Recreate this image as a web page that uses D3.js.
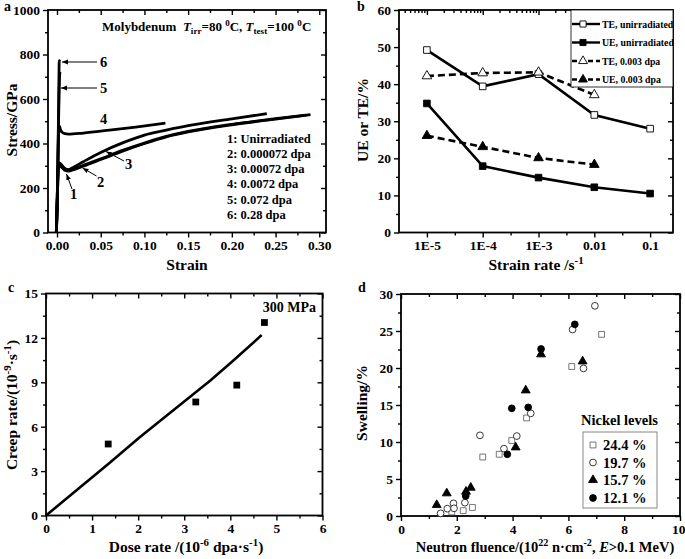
<!DOCTYPE html>
<html><head><meta charset="utf-8">
<script src="https://cdn.jsdelivr.net/npm/d3@7"></script>
<style>
body{margin:0;background:#fff}
text{font-family:'Liberation Serif','Times New Roman',serif;font-weight:bold;fill:#000}
</style>
</head><body><script>
// ---------- DATA ----------
// Panel a: stress-strain curves [strain, stress]
const curveLabels = ["1: Unirradiated","2: 0.000072 dpa","3: 0.00072 dpa","4: 0.0072 dpa","5: 0.072 dpa","6: 0.28 dpa"];
const curve1 = [[-0.0008,0],[0.0004,150],[0.0014,285],[0.003,298],[0.006,290],[0.009,280],[0.013,276],[0.02,284],[0.03,298],[0.05,328],[0.075,366],[0.1,400],[0.125,430],[0.15,452],[0.2,484],[0.25,510],[0.29,530]];
const curve2 = [[-0.0008,0],[0.0004,150],[0.0014,290],[0.003,305],[0.006,296],[0.009,285],[0.013,280],[0.02,288],[0.03,302],[0.05,331],[0.075,369],[0.1,402],[0.125,432],[0.15,454],[0.2,486],[0.25,512],[0.285,528]];
const curve3 = [[-0.0008,0],[0.0004,150],[0.0014,300],[0.003,312],[0.006,300],[0.009,288],[0.013,283],[0.02,296],[0.03,318],[0.05,360],[0.075,403],[0.1,438],[0.125,460],[0.15,480],[0.2,511],[0.24,534]];
const curve4 = [[-0.0006,0],[0.0008,250],[0.0018,440],[0.0028,478],[0.004,462],[0.006,450],[0.009,444],[0.013,442],[0.03,447],[0.06,460],[0.09,474],[0.124,492]];
const curve5 = [[-0.0006,0],[0.0008,250],[0.0018,500],[0.0032,715],[0.004,722]];
const curve6 = [[-0.0006,0],[0.0008,260],[0.0018,560],[0.0026,772],[0.0034,768]];
const strainTicks = [0,0.05,0.1,0.15,0.2,0.25,0.3];
const stressTicks = [0,200,400,600,800,1000];

// Panel b
const rateTicks = [-5,-4,-3,-2,-1];
const rateLabels = ["1E-5","1E-4","1E-3","0.01","0.1"];
const strainRates = [1e-5,1e-4,1e-3,1e-2,1e-1];
const teUnirr = [49.2,39.4,42.7,31.7,28.0];
const ueUnirr = [34.8,17.9,14.8,12.2,10.5];
const te003 = [42.2,43.0,43.2,37.1];
const ue003 = [26.1,23.1,20.1,18.3];
const bLegend = ["TE, unirradiated","UE, unirradiated","TE, 0.003 dpa","UE, 0.003 dpa"];

// Panel c
const doseRate = [1.35,3.25,4.14,4.74];
const creepRate = [4.83,7.67,8.81,13.04];
const fitDose = [0,1.39,2.04,3.56,4.06,4.68];
const fitCreep = [0,3.58,5.3,9.1,10.45,12.19];

// Panel d
const ni244 = [[1.82,0.55],[2.23,0.72],[2.56,1.15],[2.93,7.97],[3.52,8.34],[3.97,10.2],[4.5,13.25],[6.12,20.2],[7.19,24.55]];
const ni197 = [[1.42,0.36],[1.66,0.99],[1.88,1.71],[1.9,1.04],[2.29,1.8],[2.83,10.9],[3.69,9.1],[4.15,10.8],[4.65,13.87],[6.15,25.2],[6.54,19.95],[6.95,28.4]];
const ni157 = [[1.28,1.49],[1.64,3.07],[2.33,3.29],[2.5,3.83],[4.11,9.28],[4.47,16.98],[5.02,21.85],[6.51,20.9]];
const ni121 = [[2.32,2.7],[3.81,8.34],[3.97,14.55],[4.56,14.68],[5.02,22.57],[6.23,25.9]];
const dLegend = ["24.4 %","19.7 %","15.7 %","12.1 %"];

// ---------- HELPERS ----------
const FONT="'Liberation Serif','Times New Roman',serif";
const svg = d3.select("body").append("svg").attr("width",685).attr("height",559);
svg.append("defs").append("marker").attr("id","arr").attr("viewBox","0 0 10 10")
  .attr("refX",10).attr("refY",5).attr("markerWidth",6).attr("markerHeight",6)
  .attr("markerUnits","userSpaceOnUse").attr("orient","auto")
  .append("path").attr("d","M0,1L10,5L0,9Z").attr("fill","#000");

function rich(sel, parts, size){
  let shift=0;
  parts.forEach(p=>{
    const ts=sel.append("tspan").text(p.t);
    let target=0, fs=size;
    if(p.sup){target=-size*0.38;fs=size*0.7;}
    if(p.sub){target=size*0.22;fs=size*0.7;}
    ts.attr("dy",target-shift).attr("font-size",fs);
    if(p.it) ts.attr("font-style","italic");
    shift=target;
  });
}
function styleAxis(g){
  g.attr("font-size",13.5).attr("font-family",null);
  g.select(".domain").remove();
  g.selectAll("line").attr("stroke-width",1.4);
  g.selectAll("text").style("font-family",FONT).style("font-weight","bold").style("font-size","13.5px").style("fill","#000");
}
function frame(g,x,y,o){
  const [x0,x1]=x.range(), [y0,y1]=y.range();
  const fmtX=o.xFmt||(d=>d), fmtY=o.yFmt||(d=>d);
  const bx=g.append("g").attr("transform",`translate(0,${y0})`).call(d3.axisBottom(x).tickValues(o.xMajor).tickFormat(fmtX).tickSize(5).tickPadding(3).tickSizeOuter(0)).call(styleAxis);
  if(o.lastEnd) bx.selectAll(".tick").filter((d,i,n)=>i===n.length-1).select("text").attr("text-anchor","end").attr("x",5);
  if(o.xMinor) g.append("g").attr("transform",`translate(0,${y0})`).call(d3.axisBottom(x).tickValues(o.xMinor).tickFormat("").tickSize(3).tickSizeOuter(0)).call(styleAxis);
  g.append("g").attr("transform",`translate(0,${y1})`).call(d3.axisBottom(x).tickValues(o.xMajor).tickFormat("").tickSize(5).tickSizeOuter(0)).call(styleAxis);
  const topMinor=o.xTopMinor||o.xMinor;
  if(topMinor) g.append("g").attr("transform",`translate(0,${y1})`).call(d3.axisBottom(x).tickValues(topMinor).tickFormat("").tickSize(3).tickSizeOuter(0)).call(styleAxis);
  g.append("g").attr("transform",`translate(${x0},0)`).call(d3.axisLeft(y).tickValues(o.yMajor).tickFormat(fmtY).tickSize(5).tickPadding(3).tickSizeOuter(0)).call(styleAxis);
  if(o.yMinor) g.append("g").attr("transform",`translate(${x0},0)`).call(d3.axisLeft(y).tickValues(o.yMinor).tickFormat("").tickSize(3).tickSizeOuter(0)).call(styleAxis);
  g.append("g").attr("transform",`translate(${x1},0)`).call(d3.axisLeft(y).tickValues(o.yMajor).tickFormat("").tickSize(5).tickSizeOuter(0)).call(styleAxis);
  if(o.yMinor) g.append("g").attr("transform",`translate(${x1},0)`).call(d3.axisLeft(y).tickValues(o.yMinor).tickFormat("").tickSize(3).tickSizeOuter(0)).call(styleAxis);
  g.append("rect").attr("x",x0).attr("y",y1).attr("width",x1-x0).attr("height",y0-y1)
    .attr("fill","none").attr("stroke","#000").attr("stroke-width",1.8);
}
function minors(major){const m=[];for(let i=0;i<major.length-1;i++)m.push((major[i]+major[i+1])/2);return m;}
const sym=(type,size)=>d3.symbol().type(type).size(size)();

// ---------- PANEL A ----------
{
const g=svg.append("g");
const x=d3.scaleLinear().domain([-0.0103,0.3077]).range([48,326]);
const y=d3.scaleLinear().domain([0,1000]).range([232.5,10]);
const line=d3.line().x(d=>x(d[0])).y(d=>y(d[1])).curve(d3.curveMonotoneX);
g.append("clipPath").attr("id","ca").append("rect").attr("x",48).attr("y",10).attr("width",278).attr("height",222.5);
g.append("g").attr("clip-path","url(#ca)").selectAll("path").data([curve1,curve2,curve3,curve4,curve5,curve6]).join("path")
  .attr("d",line).attr("fill","none").attr("stroke","#000").attr("stroke-width",2.8).attr("stroke-linejoin","round");
frame(g,x,y,{xMajor:strainTicks,xMinor:minors(strainTicks),yMajor:stressTicks,yMinor:minors(stressTicks),
  xFmt:d3.format(".2f")});
const ann=[
  {t:"6",tx:100,ty:67,l:[97,62,62,62]},
  {t:"5",tx:100,ty:93,l:[97,88,61,88]},
  {t:"4",tx:100,ty:124,l:null},
  {t:"3",tx:125,ty:169,l:[124,161,106,151.5]},
  {t:"2",tx:97,ty:187,l:[96.5,176,82.5,168]},
  {t:"1",tx:70,ty:199,l:[72,189,66.5,174]}
];
ann.forEach(a=>{
  g.append("text").attr("x",a.tx).attr("y",a.ty).attr("font-size",14.5).text(a.t);
  if(a.l) g.append("line").attr("x1",a.l[0]).attr("y1",a.l[1]).attr("x2",a.l[2]).attr("y2",a.l[3])
    .attr("stroke","#000").attr("stroke-width",1).attr("marker-end","url(#arr)");
});
g.selectAll(".leg").data(curveLabels).join("text").attr("x",227).attr("y",(d,i)=>142.5+i*15.3)
  .attr("font-size",12.5).text(d=>d);
const title=g.append("text").attr("x",102).attr("y",31).attr("style","white-space:pre");
rich(title,[{t:"Molybdenum  "},{t:"T",it:true},{t:"irr",sub:true},{t:"=80 "},{t:"0",sup:true},{t:"C, "},
  {t:"T",it:true},{t:"test",sub:true},{t:"=100 "},{t:"0",sup:true},{t:"C"}],13);
g.append("text").attr("x",187).attr("y",270).attr("text-anchor","middle").attr("font-size",15.5).text("Strain");
g.append("text").attr("transform","translate(17,120) rotate(-90)").attr("text-anchor","middle").attr("font-size",15.5).text("Stress/GPa");
g.append("text").attr("x",4).attr("y",11).attr("font-size",14).text("a");
}

// ---------- PANEL B ----------
{
const g=svg.append("g");
const x=d3.scaleLinear().domain([-5.5,-0.59]).range([399,673]);
const y=d3.scaleLinear().domain([0,60]).range([232.5,10]);
const lx=v=>x(Math.log10(v));
const topMinor=[];
for(let d=-6;d<=-1;d++)for(let k=2;k<=9;k++){const v=d+Math.log10(k);if(v>-5.5&&v<-0.59)topMinor.push(v);}
frame(g,x,y,{xMajor:rateTicks,xMinor:[-4.5,-3.5,-2.5,-1.5],xTopMinor:topMinor,yMajor:[0,10,20,30,40,50,60],yMinor:[5,15,25,35,45,55],
  xFmt:(d,i)=>rateLabels[i]});
const series=[
  {v:teUnirr,dash:null,sym:d3.symbolSquare,fill:"#fff",size:44},
  {v:ueUnirr,dash:null,sym:d3.symbolSquare,fill:"#000",size:44},
  {v:te003,dash:"7,4",sym:d3.symbolTriangle,fill:"#fff",size:40},
  {v:ue003,dash:"7,4",sym:d3.symbolTriangle,fill:"#000",size:40}
];
const line=d3.line().x((d,i)=>lx(strainRates[i])).y(d=>y(d));
series.forEach(s=>{
  g.append("path").attr("d",line(s.v)).attr("fill","none").attr("stroke","#000").attr("stroke-width",2.6)
    .attr("stroke-dasharray",s.dash);
});
series.forEach(s=>{
  g.selectAll(null).data(s.v).join("path").attr("d",sym(s.sym,s.size))
    .attr("transform",(d,i)=>`translate(${lx(strainRates[i])},${y(d)})`)
    .attr("fill",s.fill).attr("stroke","#000").attr("stroke-width",0.9);
});
g.append("rect").attr("x",571).attr("y",10).attr("width",102).attr("height",77).attr("fill","#fff").attr("stroke","#000").attr("stroke-width",0.8);
const ly=[24,42.5,61,79.5];
series.forEach((s,i)=>{
  g.append("line").attr("x1",572).attr("x2",600).attr("y1",ly[i]).attr("y2",ly[i]).attr("stroke","#000").attr("stroke-width",2.4)
    .attr("stroke-dasharray",s.dash?"5,3":null);
  g.append("path").attr("d",sym(s.sym,s.size*0.85)).attr("transform",`translate(583,${ly[i]})`).attr("fill",s.fill).attr("stroke","#000").attr("stroke-width",0.9);
  g.append("text").attr("x",602).attr("y",ly[i]+3.5).attr("font-size",9.8).text(bLegend[i]);
});
const xt=g.append("text").attr("x",536).attr("y",270).attr("text-anchor","middle");
rich(xt,[{t:"Strain rate /s"},{t:"-1",sup:true}],15.5);
g.append("text").attr("transform","translate(368,120) rotate(-90)").attr("text-anchor","middle").attr("font-size",15.5).text("UE or TE/%");
g.append("text").attr("x",357).attr("y",11).attr("font-size",14).text("b");
}

// ---------- PANEL C ----------
{
const g=svg.append("g");
const x=d3.scaleLinear().domain([0,6]).range([46,322.5]);
const y=d3.scaleLinear().domain([0,15]).range([515.5,293.5]);
frame(g,x,y,{xMajor:[0,1,2,3,4,5,6],xMinor:[0.5,1.5,2.5,3.5,4.5,5.5],yMajor:[0,3,6,9,12,15],yMinor:[1.5,4.5,7.5,10.5,13.5]});
g.append("path").attr("d",d3.line().x((d,i)=>x(d)).y((d,i)=>y(fitCreep[i]))(fitDose))
  .attr("fill","none").attr("stroke","#000").attr("stroke-width",2.6).attr("stroke-linejoin","round");
g.selectAll(null).data(doseRate).join("path").attr("d",sym(d3.symbolSquare,46))
  .attr("transform",(d,i)=>`translate(${x(d)},${y(creepRate[i])})`).attr("fill","#000");
g.append("text").attr("x",316).attr("y",312).attr("text-anchor","end").attr("font-size",14).text("300 MPa");
const xt=g.append("text").attr("x",186).attr("y",552).attr("text-anchor","middle").attr("style","white-space:pre");
rich(xt,[{t:"Dose rate /(10"},{t:"-6",sup:true},{t:" dpa·s"},{t:"-1",sup:true},{t:")"}],15.5);
const yt=g.append("text").attr("transform","translate(17,405) rotate(-90)").attr("text-anchor","middle");
rich(yt,[{t:"Creep rate/(10"},{t:"-9",sup:true},{t:"·s"},{t:"-1",sup:true},{t:")"}],15.5);
g.append("text").attr("x",8).attr("y",292).attr("font-size",14).text("c");
}

// ---------- PANEL D ----------
{
const g=svg.append("g");
const x=d3.scaleLinear().domain([0,10]).range([401,680]);
const y=d3.scaleLinear().domain([0,30]).range([516,294]);
frame(g,x,y,{xMajor:[0,2,4,6,8,10],xMinor:[1,3,5,7,9],yMajor:[0,5,10,15,20,25,30],yMinor:[2.5,7.5,12.5,17.5,22.5,27.5],lastEnd:true});
const sets=[
  {d:ni244,sym:d3.symbolSquare,size:34,fill:"#fff",stroke:"#666"},
  {d:ni197,sym:d3.symbolCircle,size:36,fill:"#fff",stroke:"#222"},
  {d:ni157,sym:d3.symbolTriangle,size:34,fill:"#000",stroke:"#000"},
  {d:ni121,sym:d3.symbolCircle,size:36,fill:"#000",stroke:"#000"}
];
sets.forEach(s=>{
  g.selectAll(null).data(s.d).join("path").attr("d",sym(s.sym,s.size))
    .attr("transform",d=>`translate(${x(d[0])},${y(d[1])})`).attr("fill",s.fill).attr("stroke",s.stroke).attr("stroke-width",0.9);
});
g.append("text").attr("x",581).attr("y",425).attr("font-size",14.5).text("Nickel levels");
g.append("rect").attr("x",583).attr("y",432).attr("width",74).attr("height",76).attr("fill","none").attr("stroke","#888").attr("stroke-width",1);
const ly=[445,462.5,480,498];
sets.forEach((s,i)=>{
  g.append("path").attr("d",sym(s.sym,s.size)).attr("transform",`translate(593,${ly[i]})`).attr("fill",s.fill).attr("stroke",s.stroke).attr("stroke-width",0.9);
  g.append("text").attr("x",603).attr("y",ly[i]+5).attr("font-size",14.5).text(dLegend[i]);
});
const xt=g.append("text").attr("x",545).attr("y",552).attr("text-anchor","middle").attr("style","white-space:pre");
rich(xt,[{t:"Neutron fluence/(10"},{t:"22",sup:true},{t:" n·cm"},{t:"-2",sup:true},{t:", "},{t:"E",it:true},{t:">0.1 MeV)"}],14.5);
g.append("text").attr("transform","translate(367,403) rotate(-90)").attr("text-anchor","middle").attr("font-size",15.5).text("Swelling/%");
g.append("text").attr("x",358).attr("y",292).attr("font-size",14).text("d");
}
</script></body></html>
